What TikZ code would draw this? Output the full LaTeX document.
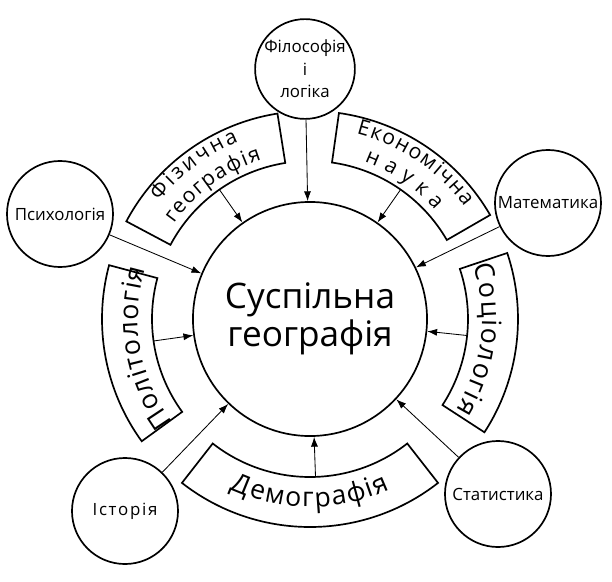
\documentclass[tikz,border=0pt]{standalone}
\usepackage{fontspec}
\setmainfont{Open Sans}
\usetikzlibrary{arrows.meta,decorations.text}

\newcommand{\labelfont}{\fontsize{12}{14}\selectfont}
\newcommand{\bandfont}{\fontsize{15}{17}\selectfont}
\newcommand{\bigbandfont}{\fontsize{19}{21}\selectfont}

\begin{document}
\begin{tikzpicture}
	[x=0.025cm,y=0.025cm,line width=1.2pt,
	 disc/.style={shape=circle,draw,line width=1.2pt,inner sep=0pt,
			minimum size=2.65cm,font=\labelfont,align=center},
	 arr/.style={-{Latex[length=7pt,width=5pt]},line width=0.6pt},
	 curved/.style={decorate,decoration={text along path,text align=center,text={#1}}}]
	\useasboundingbox (-310,-262) rectangle (302,319);

	\node[disc,minimum size=5.85cm,font=\fontsize{25}{27}\selectfont] (centre) at (0,0) {Суспільна\\географія};
	\node[disc,minimum size=2.45cm,font=\fontsize{12}{16}\selectfont] (filos) at (-5,250) {Філософія\\і\\логіка};
	\node[disc] (psych) at (-250,105) {Психологія};
	\node[disc] (mat) at (238,116) {Математика};
	\node[disc] (stat) at (188,-175) {Статистика};
	\node[disc] (ist) at (-185,-192) {\addfontfeature{LetterSpace=10}Історія};

	\foreach \from/\to in {99/152, 30/82, -33/18.5, -128/-52, 165/216}
		\draw (\from:158) arc[start angle=\from,end angle=\to,radius=158]
			-- (\to:208) arc[start angle=\to,end angle=\from,radius=208] -- cycle;

	\path[curved={|\bandfont|{Ф\kern2pt}{і\kern2pt}{з\kern2pt}{и\kern2pt}{ч\kern2pt}{н\kern2pt}а}] (172:191) arc[start angle=172,end angle=82,radius=191];
	\path[curved={|\bandfont|{г\kern1pt}{е\kern1pt}{о\kern1pt}{г\kern1pt}{р\kern1pt}{а\kern1pt}{ф\kern1pt}{і\kern1pt}я}] (171:166) arc[start angle=171,end angle=81,radius=166];
	\path[curved={|\bandfont|{Е\kern1pt}{к\kern1pt}{о\kern1pt}{н\kern1pt}{о\kern1pt}{м\kern1pt}{і\kern1pt}{ч\kern1pt}{н\kern1pt}а}] (101:191) arc[start angle=101,end angle=11,radius=191];
	\path[curved={|\bandfont|{н\kern5pt}{а\kern5pt}{у\kern5pt}{к\kern5pt}а}] (101:166) arc[start angle=101,end angle=11,radius=166];
	\path[curved={|\bigbandfont|{С\kern1pt}{о\kern1pt}{ц\kern1pt}{і\kern1pt}{о\kern1pt}{л\kern1pt}{о\kern1pt}{г\kern1pt}{і\kern1pt}я}] (38:172) arc[start angle=38,end angle=-52,radius=172];
	\path[curved={|\bigbandfont|{Д\kern1pt}{е\kern1pt}{м\kern1pt}{о\kern1pt}{г\kern1pt}{р\kern1pt}{а\kern1pt}{ф\kern1pt}{і\kern1pt}я}] (-135:188) arc[start angle=-135,end angle=-45,radius=188];
	\path[curved={|\bigbandfont|{П\kern0.8pt}{о\kern0.8pt}{л\kern0.8pt}{і\kern0.8pt}{т\kern0.8pt}{о\kern0.8pt}{л\kern0.8pt}{о\kern0.8pt}{г\kern0.8pt}{і\kern0.8pt}я}] (235:172) arc[start angle=235,end angle=145,radius=172];

	\foreach \name/\ang in {fiz/125, ekon/55, soc/-6, dem/-88, pol/188}
		\coordinate (\name) at (\ang:158);

	\path
	\foreach \outer in {filos, psych, mat, stat, ist}
	{
		(\outer) edge[arr] (centre)
	};
	\path
	\foreach \name/\ang in {fiz/125, ekon/55, soc/-6, dem/-88, pol/188}
	{
		(\name) edge[arr] (centre.\ang)
	};
\end{tikzpicture}
\end{document}
